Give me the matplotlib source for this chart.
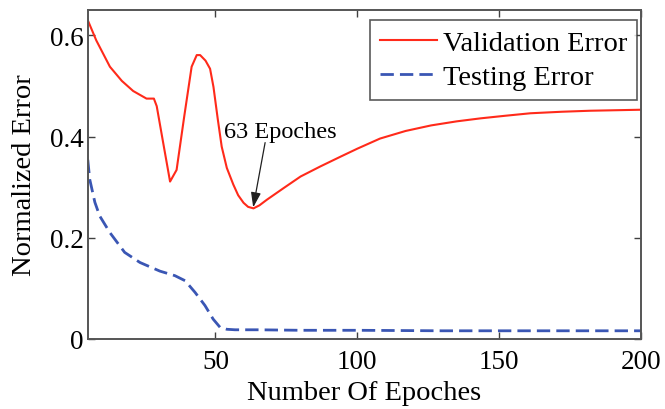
import matplotlib
matplotlib.use("Agg")
import matplotlib.pyplot as plt

plt.rcParams['font.family'] = ['Liberation Serif', 'DejaVu Serif']
plt.rcParams['mathtext.fontset'] = 'stix'

val_x = [5, 8, 12.8, 17, 21, 25.7, 28.3, 29.3, 31.5, 34, 36.3, 39, 41.6, 43.4, 44.6, 46.5, 48.1, 49.3,
         50.8, 52.2, 54, 56.3, 58, 59.9, 61.5, 63.4, 65.5, 68.1, 74, 80, 87, 94, 100, 108, 117, 126,
         135, 143.5, 152, 161, 172, 182, 191, 200]
val_y = [0.630, 0.590, 0.538, 0.510, 0.490, 0.475, 0.475, 0.460, 0.390, 0.311, 0.334, 0.440, 0.538,
         0.561, 0.561, 0.550, 0.534, 0.498, 0.435, 0.380, 0.338, 0.305, 0.284, 0.269, 0.261, 0.258,
         0.264, 0.275, 0.298, 0.321, 0.341, 0.360, 0.376, 0.396, 0.411, 0.422, 0.430, 0.436, 0.441,
         0.446, 0.449, 0.451, 0.452, 0.453]

test_x = [5, 5.7, 7.5, 9.2, 12.8, 18, 23.4, 30.4, 35.7, 39.3, 42.8, 46.3, 49.2, 51.6, 54, 56.9,
          65, 80, 100, 130, 160, 200]
test_y = [0.354, 0.315, 0.270, 0.243, 0.210, 0.171, 0.151, 0.134, 0.125, 0.115, 0.092, 0.066,
          0.039, 0.023, 0.019, 0.018, 0.018, 0.017, 0.017, 0.016, 0.016, 0.016]

x_ticks = [50, 100, 150, 200]
y_ticks = [0, 0.2, 0.4, 0.6]
y_tick_labels = ['0', '0.2', '0.4', '0.6']

annot_text = '63 Epoches'
annot_text_pos = (53.1, 0.410)
annot_tail = (67.5, 0.388)
annot_head = (63.3, 0.260)

fig = plt.figure(figsize=(6.65, 4.10), dpi=100)
ax = fig.add_axes([0.132, 0.171, 0.832, 0.802])

ax.plot(val_x, val_y, color='#ff2a1a', lw=1.5, label='Validation Error')
ax.plot(test_x, test_y, color='#3a56b4', lw=2.0, ls=(0, (4.8, 2.2)), label='Testing Error')

ax.set_xlim(5, 200)
ax.set_ylim(0, 0.65)
ax.set_xticks(x_ticks)
ax.set_yticks(y_ticks)
ax.set_yticklabels(y_tick_labels)
ax.tick_params(direction='in', top=True, right=True, labelsize=19.5, length=5, width=1,
               color='#404040')
ax.tick_params(axis='x', pad=7.5)
ax.tick_params(axis='y', pad=3)
for s in ax.spines.values():
    s.set_color('#555555')
    s.set_linewidth(1.4)

ax.set_xlabel('Number Of Epoches', fontsize=20.5, labelpad=4)
ax.set_ylabel('Normalized Error', fontsize=20.5, labelpad=9)

ax.text(annot_text_pos[0], annot_text_pos[1], annot_text, fontsize=17.5, va='center', ha='left')
ax.annotate('', xy=annot_head, xytext=annot_tail,
            arrowprops=dict(arrowstyle='-|>,head_length=0.9,head_width=0.3', color='#202020',
                            lw=0.9, shrinkA=0, shrinkB=0))

leg = ax.legend(loc='upper right', bbox_to_anchor=(637 / 665, 1 - 21 / 410),
                bbox_transform=fig.transFigure, fontsize=20.5, frameon=True, fancybox=False,
                edgecolor='#303030', handlelength=2.0, handletextpad=0.2, borderpad=0.35,
                labelspacing=0.3, borderaxespad=0)
leg.get_frame().set_linewidth(1.2)

fig.savefig('out.png', dpi=100)
